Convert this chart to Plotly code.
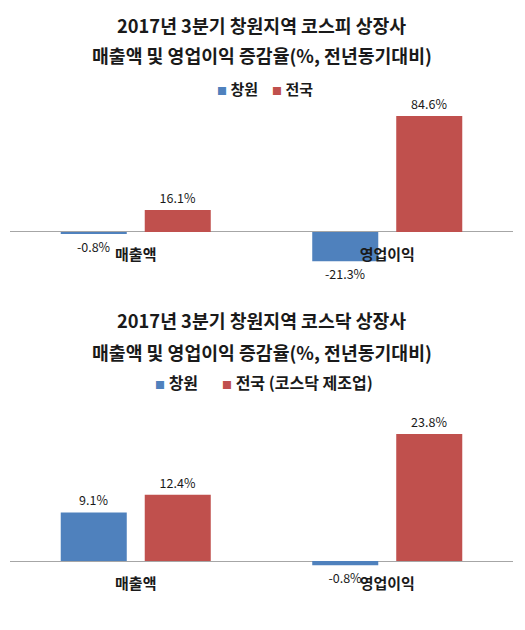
import plotly.graph_objects as go

# chart data
categories = ['매출액', '영업이익']
kospi_changwon = [-0.8, -21.3]
kospi_national = [16.1, 84.6]
kosdaq_changwon = [9.1, -0.8]
kosdaq_national = [12.4, 23.8]

series_names_top = ['창원', '전국']
series_names_bottom = ['창원', '전국 (코스닥 제조업)']

title_top = ['2017년 3분기 창원지역 코스피 상장사', '매출액 및 영업이익 증감율(%, 전년동기대비)']
title_bottom = ['2017년 3분기 창원지역 코스닥 상장사', '매출액 및 영업이익 증감율(%, 전년동기대비)']

BLUE = '#4F81BD'
RED = '#C0504D'
FONT = 'Noto Sans CJK KR'
TEXT = '#1a1a1a'

H = 630
PAGE_OFFSET = 8  # browser body margin pushes the plot down/right
ML, MR = 2, 20
PLOT_W = 525 - ML - MR


def py(target):
    # screen pixel row -> paper fraction
    return (H + PAGE_OFFSET - target) / H


def px(target):
    # screen pixel column -> paper fraction
    return (target - PAGE_OFFSET - ML) / PLOT_W


def bars(name, values, color, xa, ya):
    return go.Bar(
        x=categories, y=values, name=name,
        marker=dict(color=color, line=dict(width=0)),
        texttemplate='%{y:.1f}%', textposition='outside',
        textfont=dict(family=FONT, size=12.5, color=TEXT),
        constraintext='none', cliponaxis=False,
        xaxis=xa, yaxis=ya, showlegend=False,
    )


fig = go.Figure()
fig.add_trace(bars(series_names_top[0], kospi_changwon, BLUE, 'x', 'y'))
fig.add_trace(bars(series_names_top[1], kospi_national, RED, 'x', 'y'))
fig.add_trace(bars(series_names_bottom[0], kosdaq_changwon, BLUE, 'x2', 'y2'))
fig.add_trace(bars(series_names_bottom[1], kosdaq_national, RED, 'x2', 'y2'))

xcommon = dict(
    range=[-0.5, 1.5], anchor='free', showline=False, showgrid=False, zeroline=False,
    ticks='outside', ticklen=9, tickcolor='rgba(0,0,0,0)',
    tickfont=dict(family=FONT, size=15, color=TEXT, weight='bold'),
)
ycommon = dict(
    showgrid=False, showticklabels=False, zeroline=True,
    zerolinecolor='#A6A6A6', zerolinewidth=1,
)

fig.update_layout(
    width=525, height=H,
    margin=dict(l=ML, r=MR, t=0, b=0),
    paper_bgcolor='white', plot_bgcolor='white',
    font=dict(family=FONT, color=TEXT),
    barmode='group', bargap=0.332, bargroupgap=0.214,
    xaxis=dict(xcommon, position=py(232)),
    yaxis=dict(ycommon, domain=[py(286.8), py(94.9)], range=[-40, 100], anchor='x'),
    xaxis2=dict(xcommon, position=py(561)),
    yaxis2=dict(ycommon, domain=[py(614.4), py(400.8)], range=[-10, 30], anchor='x2'),
)

# chart titles, two lines each
for lines, ys in ((title_top, (25, 55)), (title_bottom, (320, 352))):
    for text, ypx in zip(lines, ys):
        fig.add_annotation(
            text=text, xref='paper', yref='paper', x=0.5, y=py(ypx),
            xanchor='center', yanchor='middle', showarrow=False,
            font=dict(family=FONT, size=18.3, color=TEXT, weight='bold'),
        )

# legends drawn as text: coloured square + series name, one item each
legend_items = (
    (series_names_top, (237, 292), 88, 15),
    (series_names_bottom, (176.5, 297), 382, 16),
)
for names, xs, ypx, size in legend_items:
    for name, color, xpx in zip(names, (BLUE, RED), xs):
        fig.add_annotation(
            text=f"<span style='color:{color};font-size:10px'>■</span> {name}",
            xref='paper', yref='paper', x=px(xpx), y=py(ypx),
            xanchor='center', yanchor='middle', showarrow=False,
            font=dict(family=FONT, size=size, color=TEXT, weight='bold'),
        )

fig.write_html('out.html')
